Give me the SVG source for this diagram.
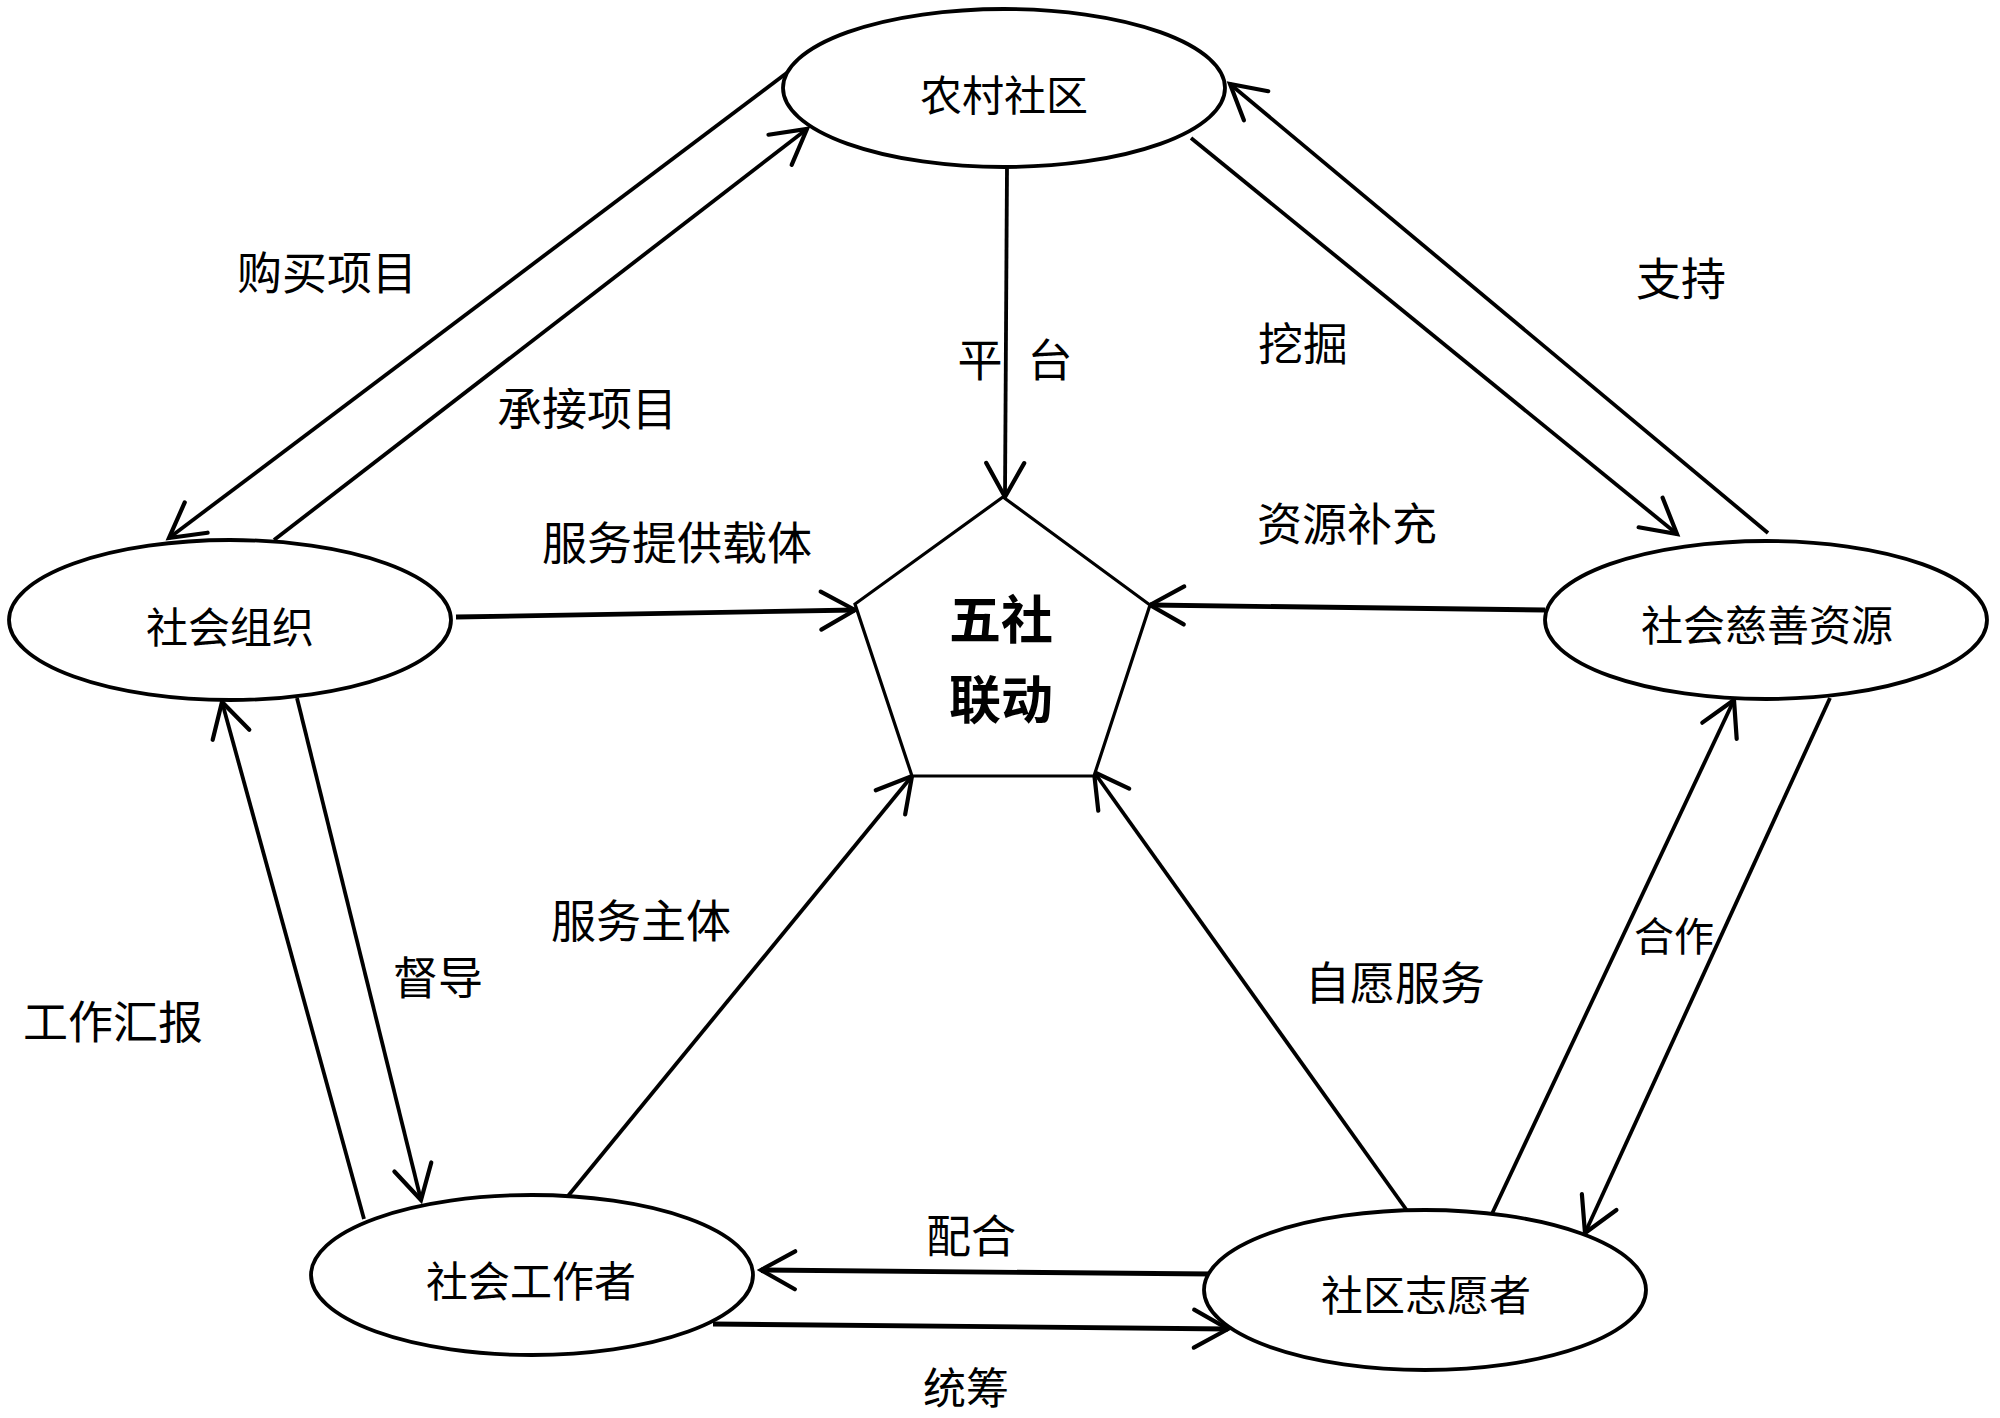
<svg xmlns="http://www.w3.org/2000/svg" width="2000" height="1418" viewBox="0 0 2000 1418">
<style>
.node{fill:#fff;stroke:#000;stroke-width:3.8}
.lbl{font-family:"Noto Sans CJK SC","Noto Sans",sans-serif;font-size:42px;fill:#000;text-anchor:middle;dominant-baseline:central}
.elbl{font-family:"Noto Sans CJK SC","Noto Sans",sans-serif;font-size:45px;fill:#000;text-anchor:middle;dominant-baseline:central}
.core{font-family:"Noto Sans CJK SC","Noto Sans",sans-serif;font-size:52px;font-weight:700;fill:#000;text-anchor:middle;dominant-baseline:central}
.edge{fill:none;stroke:#000;stroke-width:3.8;marker-end:url(#arr)}
.thick{stroke-width:4.8}
</style>
<defs>
<marker id="arr" markerUnits="userSpaceOnUse" viewBox="-45 -25 50 50" refX="0" refY="0" markerWidth="50" markerHeight="50" orient="auto" overflow="visible">
<path d="M-34,-19 L0,0 L-34,19" fill="none" stroke="#000" stroke-width="4.2" stroke-linecap="round" stroke-linejoin="miter"/>
</marker>
</defs>
<rect width="2000" height="1418" fill="#fff"/>
<g id="connectors">
<path class="edge" d="M788,72 L169,538"/>
<path class="edge" d="M274,540 L807,129"/>
<path class="edge" d="M1007,167 L1005,497"/>
<path class="edge" d="M1191,138 L1677,534"/>
<path class="edge" d="M1768,533 L1230,84"/>
<path class="edge thick" d="M1545,610 L1150,605"/>
<path class="edge thick" d="M456,617 L855,610"/>
<path class="edge" d="M297,698 L421,1200"/>
<path class="edge" d="M364,1219 L222,702"/>
<path class="edge" d="M568,1196 L912,776"/>
<path class="edge" d="M1408,1212 L1094,772"/>
<path class="edge" d="M1490,1218 L1734,700"/>
<path class="edge" d="M1830,698 L1585,1233"/>
<path class="edge thick" d="M1212,1274 L761,1270"/>
<path class="edge thick" d="M713,1324 L1228,1329"/>
</g>
<g id="edge-labels">
<text class="elbl" x="327" y="270">购买项目</text>
<text class="elbl" x="587" y="406">承接项目</text>
<text class="elbl" x="677" y="540">服务提供载体</text>
<text class="elbl" y="357"><tspan x="980">平</tspan><tspan x="1050">台</tspan></text>
<text class="elbl" x="1303" y="341">挖掘</text>
<text class="elbl" x="1681" y="276">支持</text>
<text class="elbl" x="1347" y="521">资源补充</text>
<text class="elbl" x="113" y="1019">工作汇报</text>
<text class="elbl" x="438" y="975">督导</text>
<text class="elbl" x="641" y="918">服务主体</text>
<text class="elbl" x="971" y="1233">配合</text>
<text class="elbl" x="966" y="1385" style="font-size:43px">统筹</text>
<text class="elbl" x="1395" y="980">自愿服务</text>
<text class="elbl" x="1674" y="934" style="font-size:40px">合作</text>
</g>
<g id="node-core">
<polygon class="node" points="1003,497 1150,605 1094,776 912,776 855,604" style="stroke-width:3.2"/>
<text class="core" x="1001" y="616">五社</text>
<text class="core" x="1001" y="696">联动</text>
</g>
<g id="node-rural">
<ellipse class="node" cx="1004" cy="88" rx="221" ry="79"/>
<text class="lbl" x="1004" y="92">农村社区</text>
</g>
<g id="node-org">
<ellipse class="node" cx="230" cy="620" rx="221" ry="80"/>
<text class="lbl" x="230" y="624">社会组织</text>
</g>
<g id="node-charity">
<ellipse class="node" cx="1766" cy="620" rx="221" ry="79"/>
<text class="lbl" x="1767" y="622">社会慈善资源</text>
</g>
<g id="node-worker">
<ellipse class="node" cx="532" cy="1275" rx="221" ry="80"/>
<text class="lbl" x="531" y="1278">社会工作者</text>
</g>
<g id="node-volunteer">
<ellipse class="node" cx="1425" cy="1290" rx="221" ry="80"/>
<text class="lbl" x="1426" y="1292">社区志愿者</text>
</g>
</svg>
